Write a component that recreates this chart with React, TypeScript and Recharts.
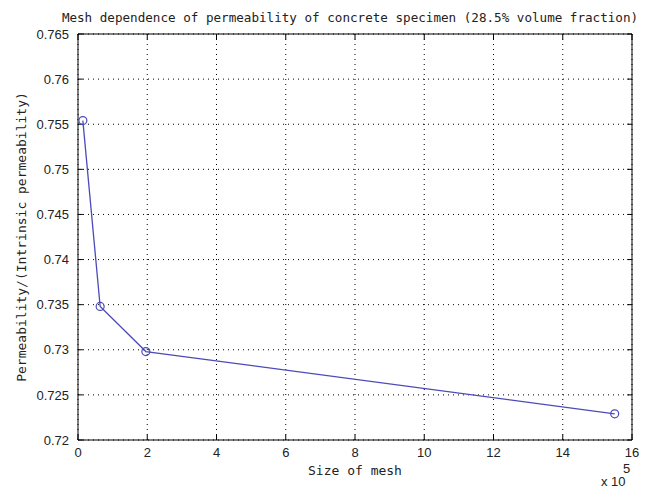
import React from "react";
import {
  LineChart,
  Line,
  XAxis,
  YAxis,
  CartesianGrid,
  ReferenceLine,
} from "recharts";

// mesh size, in units of 10^5
const meshSizes = [0.14, 0.64, 1.96, 15.5];
const permRatio = [0.7554, 0.7348, 0.7298, 0.7229];

const xTicks = [0, 2, 4, 6, 8, 10, 12, 14, 16];
const yTicks = [0.72, 0.725, 0.73, 0.735, 0.74, 0.745, 0.75, 0.755, 0.76, 0.765];

const title = "Mesh dependence of permeability of concrete specimen (28.5% volume fraction)";
const xLabel = "Size of mesh";
const yLabel = "Permeability/(Intrinsic permeability)";

const data = meshSizes.map((x, i) => ({ x, y: permRatio[i] }));

const mono = "'DejaVu Sans Mono', monospace";
const sans = "'Liberation Sans', Arial, sans-serif";
const lineColor = "#4b4bb8";

const X0 = 0, X1 = 16, Y0 = 0.72, Y1 = 0.765;
// inward tick length, in data units (about 5px)
const tickX = 0.14;
const tickY = 0.0006;

const fmtY = (v: number) => String(+v.toFixed(3));

export default function App() {
  return (
    <div
      style={{
        position: "absolute",
        left: 0,
        top: 0,
        width: 645,
        height: 491,
        background: "#fff",
        overflow: "hidden",
      }}
    >
      <LineChart
        width={645}
        height={491}
        data={data}
        margin={{ top: 34, right: 13, left: 0, bottom: 0 }}
      >
        <CartesianGrid
          stroke="#000"
          strokeDasharray="1 4"
          horizontalValues={yTicks}
          verticalValues={xTicks}
        />
        <XAxis
          type="number"
          dataKey="x"
          domain={[X0, X1]}
          ticks={xTicks}
          height={51}
          axisLine={{ stroke: "#000" }}
          tickLine={false}
          tickMargin={2}
          tick={{ fill: "#222", fontSize: 13, fontFamily: sans }}
          interval={0}
        />
        <YAxis
          type="number"
          domain={[Y0, Y1]}
          ticks={yTicks}
          width={78}
          axisLine={{ stroke: "#000" }}
          tickLine={false}
          tickMargin={3}
          tickFormatter={fmtY}
          tick={{ fill: "#222", fontSize: 13, fontFamily: sans }}
          interval={0}
        />
        <ReferenceLine y={Y1} stroke="#000" />
        <ReferenceLine x={X1} stroke="#000" />
        {xTicks.map((t) => (
          <ReferenceLine
            key={"xb" + t}
            segment={[{ x: t, y: Y0 }, { x: t, y: Y0 + tickY }]}
            stroke="#000"
          />
        ))}
        {xTicks.map((t) => (
          <ReferenceLine
            key={"xt" + t}
            segment={[{ x: t, y: Y1 }, { x: t, y: Y1 - tickY }]}
            stroke="#000"
          />
        ))}
        {yTicks.map((t) => (
          <ReferenceLine
            key={"yl" + t}
            segment={[{ x: X0, y: t }, { x: X0 + tickX, y: t }]}
            stroke="#000"
          />
        ))}
        {yTicks.map((t) => (
          <ReferenceLine
            key={"yr" + t}
            segment={[{ x: X1, y: t }, { x: X1 - tickX, y: t }]}
            stroke="#000"
          />
        ))}
        <Line
          type="linear"
          dataKey="y"
          stroke={lineColor}
          strokeWidth={1.3}
          dot={{ r: 4, stroke: lineColor, strokeWidth: 1.2, fill: "none" }}
          isAnimationActive={false}
        />
      </LineChart>

      <div
        style={{
          position: "absolute",
          left: 0,
          width: 700,
          top: 10,
          textAlign: "center",
          fontFamily: mono,
          fontSize: 12.6,
          lineHeight: "15px",
          color: "#222",
          whiteSpace: "nowrap",
        }}
      >
        {title}
      </div>
      <div
        style={{
          position: "absolute",
          left: 255,
          width: 200,
          top: 463,
          textAlign: "center",
          fontFamily: mono,
          fontSize: 13,
          lineHeight: "15px",
          color: "#222",
        }}
      >
        {xLabel}
      </div>
      <div
        style={{
          position: "absolute",
          left: 21,
          top: 237,
          transform: "translate(-50%, -50%) rotate(-90deg)",
          fontFamily: mono,
          fontSize: 13,
          color: "#222",
          whiteSpace: "nowrap",
        }}
      >
        {yLabel}
      </div>
      <div
        style={{
          position: "absolute",
          left: 623,
          top: 461,
          fontFamily: sans,
          fontSize: 13,
          lineHeight: "15px",
          color: "#222",
        }}
      >
        5
      </div>
      <div
        style={{
          position: "absolute",
          left: 601,
          top: 474,
          fontFamily: sans,
          fontSize: 13,
          lineHeight: "15px",
          color: "#222",
          whiteSpace: "nowrap",
        }}
      >
        x 10
      </div>
    </div>
  );
}
